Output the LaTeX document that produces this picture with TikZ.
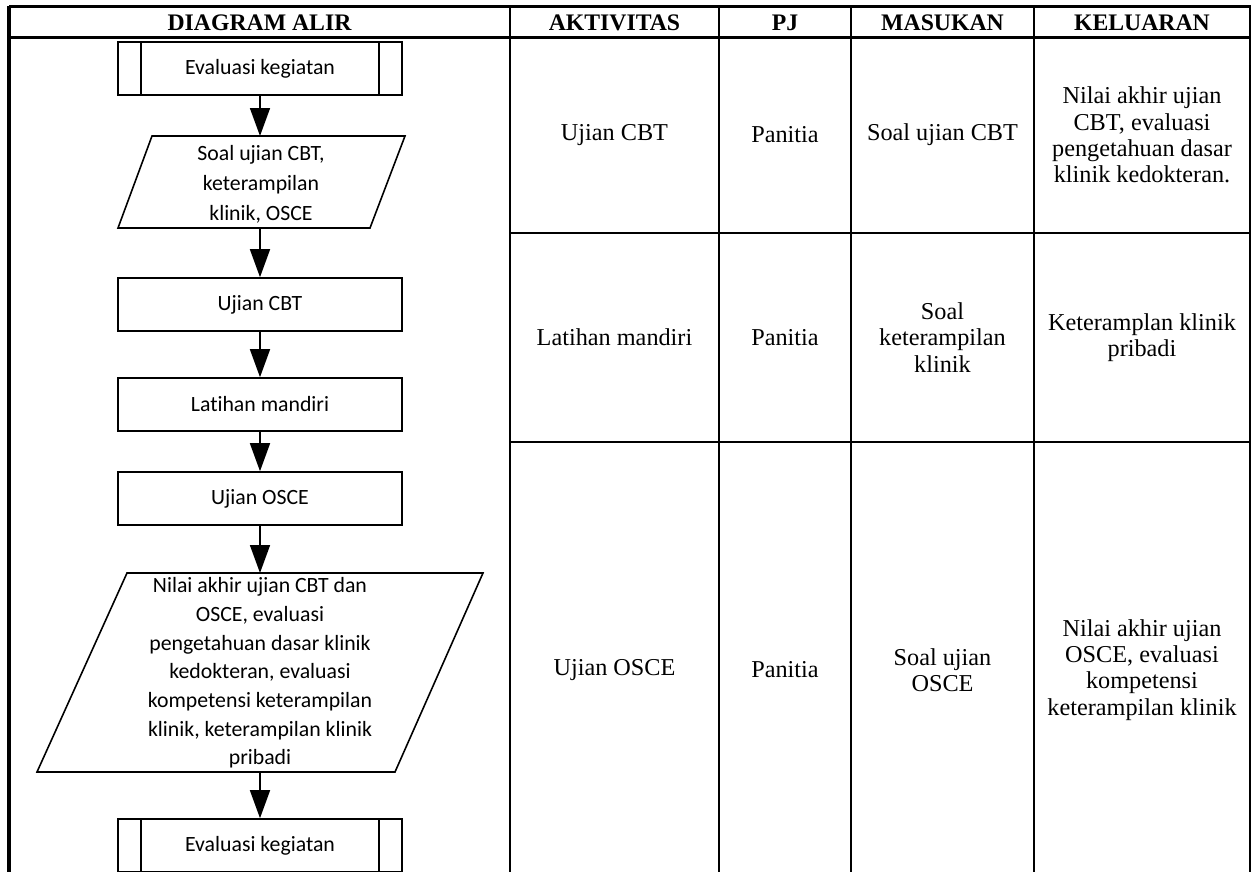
\documentclass[tikz,border=0pt]{standalone}
\usepackage{fontspec}
\setmainfont{Liberation Serif}
\newfontfamily\flowfont[Ligatures=NoCommon]{Carlito}
\usetikzlibrary{arrows.meta}
\begin{document}
\begin{tikzpicture}[x=0.02cm,y=-0.02cm,
  tabtxt/.style={font=\fontsize{13.8}{14.9}\selectfont, align=center, inner sep=0pt},
  headtxt/.style={font=\fontsize{13.5}{14.8}\selectfont\bfseries, inner sep=0pt},
  flowtxt/.style={font=\flowfont\fontsize{12.4}{16.3}\selectfont, align=center, inner sep=0pt},
  procbox/.style={draw, line width=0.9pt, minimum width=5.68cm, minimum height=1.06cm, inner sep=0pt,
     font=\flowfont\fontsize{12.4}{16.3}\selectfont},
  shapeline/.style={line width=0.9pt},
  flowarrow/.style={-{Triangle[length=0.56cm,width=0.4cm]}, line width=0.9pt},
  thickrule/.style={line width=2pt},
  headrule/.style={line width=1.5pt},
  gridrule/.style={line width=1.1pt},
  thinrule/.style={line width=0.9pt}]
\useasboundingbox (0,0) rectangle (1252,872);
\begin{scope}
\clip (0,0) rectangle (1252,872);
% ---------- table frame ----------
\draw[thickrule] (9,6.7) -- (1251,6.7);
\draw[thickrule] (9,5.7) -- (9,872);
\draw[thinrule] (1250,6.7) -- (1250,872);
\draw[headrule] (9,37.5) -- (1250,37.5);
\foreach \cx in {510,719,851,1034}{
  \draw[gridrule] (\cx,6.7) -- (\cx,872);
}
\draw[gridrule] (510,233) -- (1250,233);
\draw[gridrule] (510,442) -- (1250,442);

% ---------- headers ----------
\node[headtxt] (h1) at (259.5,22.5) {DIAGRAM ALIR};
\node[headtxt] (h2) at (614.5,22.5) {AKTIVITAS};
\node[headtxt] (h3) at (785,22.5) {PJ};
\node[headtxt] (h4) at (942.5,22.5) {MASUKAN};
\node[headtxt] (h5) at (1142,22.5) {KELUARAN};

% ---------- row 1 ----------
\node[tabtxt] (a1) at (614.5,135) {Ujian CBT};
\node[tabtxt] (b1) at (785,135) {Panitia};
\node[tabtxt] (c1) at (942.5,135) {Soal ujian CBT};
\node[tabtxt] (d1) at (1142,135) {Nilai akhir ujian\\CBT, evaluasi\\pengetahuan dasar\\klinik kedokteran.};
% ---------- row 2 ----------
\node[tabtxt] (a2) at (614.5,337.5) {Latihan mandiri};
\node[tabtxt] (b2) at (785,337.5) {Panitia};
\node[tabtxt] (c2) at (942.5,337.5) {Soal\\keterampilan\\klinik};
\node[tabtxt] (d2) at (1142,337.5) {Keteramplan klinik\\pribadi};
% ---------- row 3 ----------
\node[tabtxt] (a3) at (614.5,670) {Ujian OSCE};
\node[tabtxt] (b3) at (785,670) {Panitia};
\node[tabtxt] (c3) at (942.5,670) {Soal ujian\\OSCE};
\node[tabtxt] (d3) at (1142,670) {Nilai akhir ujian\\OSCE, evaluasi\\kompetensi\\keterampilan klinik};

% ---------- flowchart ----------
\node[procbox] (ev1) at (260,68.5) {Evaluasi kegiatan};
\draw[shapeline] ([xshift=0.48cm]ev1.north west) -- ([xshift=0.48cm]ev1.south west);
\draw[shapeline] ([xshift=-0.48cm]ev1.north east) -- ([xshift=-0.48cm]ev1.south east);

\coordinate (p1t) at (260,136);
\coordinate (p1b) at (260,228);
\draw[shapeline] (152,136) -- (405,136) -- (370,228) -- (118,228) -- cycle;
\node[flowtxt, font=\flowfont\fontsize{12.4}{17}\selectfont] (p1) at (261,184) {Soal ujian CBT,\\keterampilan\\klinik, OSCE};

\node[procbox] (cbt) at (260,304.5) {Ujian CBT};
\node[procbox] (lat) at (260,404.5) {Latihan mandiri};
\node[procbox] (osce) at (260,498.5) {Ujian OSCE};

\coordinate (p2t) at (260,573);
\coordinate (p2b) at (260,772);
\draw[shapeline] (127,573) -- (483,573) -- (395,772) -- (37,772) -- cycle;
\node[flowtxt] (p2) at (260,673) {Nilai akhir ujian CBT dan\\OSCE, evaluasi\\pengetahuan dasar klinik\\kedokteran, evaluasi\\kompetensi keterampilan\\klinik, keterampilan klinik\\pribadi};

\node[procbox] (ev2) at (260,845.5) {Evaluasi kegiatan};
\draw[shapeline] ([xshift=0.48cm]ev2.north west) -- ([xshift=0.48cm]ev2.south west);
\draw[shapeline] ([xshift=-0.48cm]ev2.north east) -- ([xshift=-0.48cm]ev2.south east);

\draw[flowarrow] (ev1.south) -- (p1t);
\draw[flowarrow] (p1b) -- (cbt.north);
\draw[flowarrow] (cbt.south) -- (lat.north);
\draw[flowarrow] (lat.south) -- (osce.north);
\draw[flowarrow] (osce.south) -- (p2t);
\draw[flowarrow] (p2b) -- (ev2.north);
\end{scope}
\end{tikzpicture}
\end{document}
